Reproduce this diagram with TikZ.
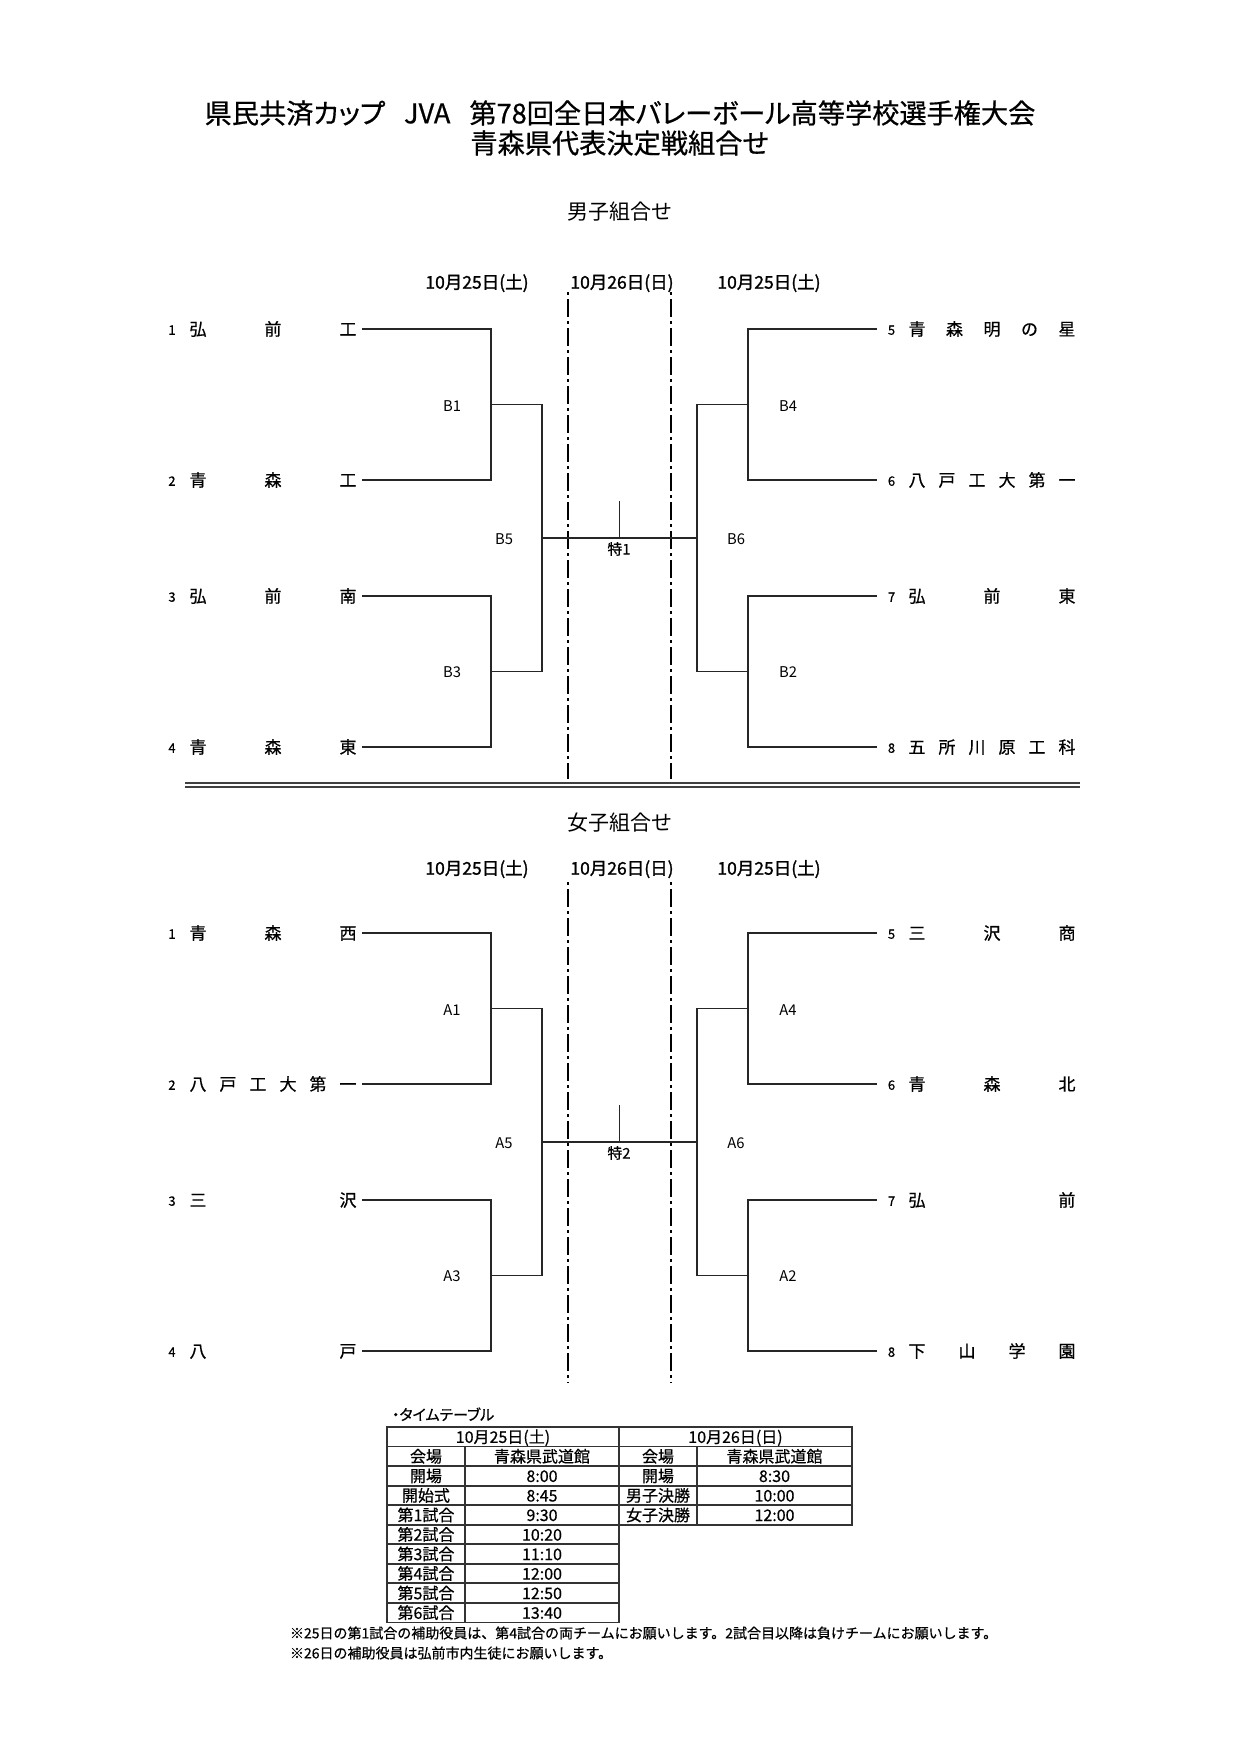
\documentclass[tikz,border=0pt]{standalone}
\usepackage{fontspec}
\setmainfont{Noto Sans CJK JP}
\newfontfamily\jpb{Noto Sans CJK JP}[FakeBold=1.4]
\newfontfamily\jpm{Noto Sans CJK JP}[FakeBold=0.6]
\newcommand\spreadbox[1]{\makebox[83.5pt]{#1}}
\tikzset{
  base/.style={inner sep=0pt, outer sep=0pt},
  ttl/.style={base, font=\jpm\fontsize{13.6pt}{16pt}\selectfont, text height=11.97pt, text depth=1.63pt},
  hdr/.style={base, font=\fontsize{10.5pt}{12pt}\selectfont, text height=9.24pt, text depth=1.26pt},
  dt/.style={base, font=\jpb\fontsize{8.75pt}{10pt}\selectfont, text height=7.7pt, text depth=1.05pt},
  tm/.style={base, anchor=west, font=\jpm\fontsize{8.5pt}{10pt}\selectfont, text height=7.48pt, text depth=1.02pt},
  nm/.style={base, font=\jpm\fontsize{6.5pt}{7pt}\selectfont, text height=4.75pt, text depth=0pt},
  lb/.style={base, font=\fontsize{7.4pt}{8pt}\selectfont, text height=5.4pt, text depth=0pt},
  tk/.style={base, font=\jpm\fontsize{7.4pt}{8pt}\selectfont, text height=6.5pt, text depth=0.89pt},
  tb/.style={base, font=\jpm\fontsize{8pt}{9pt}\selectfont, text height=7.04pt, text depth=0.96pt},
  nt/.style={base, anchor=west, font=\jpm\fontsize{7pt}{8pt}\selectfont, text height=6.16pt, text depth=0.84pt},
  br/.style={line width=0.6pt, draw=black!85},
  dd/.style={line width=1.1pt, draw=black, dash pattern=on 9pt off 2pt on 1.5pt off 2pt, dash phase=11pt},
  grd/.style={line width=0.9pt, draw=black!80},
  dbl/.style={line width=0.7pt, draw=black!75},
}
% #1 vertical shift, #2 name prefix, #3 label letter, #4 final label
\newcommand\bracketframe[4]{%
\begin{scope}[shift={(0,#1)}, name prefix=#2-]
  \coordinate (L1) at (362,329); \coordinate (L2) at (362,480);
  \coordinate (L3) at (362,596); \coordinate (L4) at (362,747);
  \coordinate (R1) at (877,329); \coordinate (R2) at (877,480);
  \coordinate (R3) at (877,596); \coordinate (R4) at (877,747);
  \coordinate (J1) at (491,404.5); \coordinate (J3) at (491,671.5);
  \coordinate (J5) at (542,538);   \coordinate (J4) at (748,404.5);
  \coordinate (J2) at (748,671.5); \coordinate (J6) at (697,538);
  \coordinate (TK) at (619.5,501); \coordinate (TB) at (619.5,538);
  \draw[br] (L1) -| (J1) |- (L2);
  \draw[br] (L3) -| (J3) |- (L4);
  \draw[br] (J1) -| (J5) |- (J3);
  \draw[br] (R1) -| (J4) |- (R2);
  \draw[br] (R3) -| (J2) |- (R4);
  \draw[br] (J4) -| (J6) |- (J2);
  \draw[br] (J5) -- (J6);
  \draw[br] (TK) -- (TB);
  \node[lb] (X1) at (452,406) {#31};
  \node[lb] (X3) at (452,672) {#33};
  \node[lb] (X5) at (504,539) {#35};
  \node[lb] (X4) at (788,406) {#34};
  \node[lb] (X2) at (788,672) {#32};
  \node[lb] (X6) at (736,539) {#36};
  \node[tk] (XF) at (619,549) {#4};
\end{scope}}
\begin{document}
\begin{tikzpicture}[x=0.5pt,y=-0.5pt]
\useasboundingbox (0,0) rectangle (1241,1755);
\fill[white] (0,0) rectangle (1241,1755);

% titles
\node[ttl] (title1) at (620,113) {\addfontfeature{RawFeature=+palt}県民共済カップ\hspace{0.7em}JVA\hspace{0.7em}第78回全日本バレーボール高等学校選手権大会};
\node[ttl] (title2) at (620,143) {青森県代表決定戦組合せ};

% ---------------- men ----------------
\node[hdr] (mhead) at (620,212) {男子組合せ};
\node[dt] (md1) at (477,282) {10月25日(土)};
\node[dt] (md2) at (622,282) {10月26日(日)};
\node[dt] (md3) at (769,282) {10月25日(土)};
\coordinate (mdlt) at (568,292); \coordinate (mdlb) at (568,779);
\coordinate (mdrt) at (671,292); \coordinate (mdrb) at (671,779);
\draw[dd] (mdlt) -- (mdlb);
\draw[dd] (mdrt) -- (mdrb);
\bracketframe{0}{m}{B}{特1}
\begin{scope}[name prefix=m-]
  \node[nm] (k1) at (172,330) {1};
  \node[nm] (k2) at (172,481) {2};
  \node[nm] (k3) at (172,597) {3};
  \node[nm] (k4) at (172,748) {4};
  \node[tm] (n1) at (189.5,329) {\spreadbox{弘\hfill 前\hfill 工}};
  \node[tm] (n2) at (189.5,480) {\spreadbox{青\hfill 森\hfill 工}};
  \node[tm] (n3) at (189.5,596) {\spreadbox{弘\hfill 前\hfill 南}};
  \node[tm] (n4) at (189.5,747) {\spreadbox{青\hfill 森\hfill 東}};
  \node[nm] (k5) at (891.5,330) {5};
  \node[nm] (k6) at (891.5,481) {6};
  \node[nm] (k7) at (891.5,597) {7};
  \node[nm] (k8) at (891.5,748) {8};
  \node[tm] (n5) at (908.5,329) {\spreadbox{青\hfill 森\hfill 明\hfill の\hfill 星}};
  \node[tm] (n6) at (908.5,480) {\spreadbox{八\hfill 戸\hfill 工\hfill 大\hfill 第\hfill 一}};
  \node[tm] (n7) at (908.5,596) {\spreadbox{弘\hfill 前\hfill 東}};
  \node[tm] (n8) at (908.5,747) {\spreadbox{五\hfill 所\hfill 川\hfill 原\hfill 工\hfill 科}};
\end{scope}

% separator double line
\coordinate (sepAl) at (185,783); \coordinate (sepAr) at (1080,783);
\coordinate (sepBl) at (185,787); \coordinate (sepBr) at (1080,787);
\draw[dbl] (sepAl) -- (sepAr);
\draw[dbl] (sepBl) -- (sepBr);

% ---------------- women ----------------
\node[hdr] (whead) at (620,823) {女子組合せ};
\node[dt] (wd1) at (477,868) {10月25日(土)};
\node[dt] (wd2) at (622,868) {10月26日(日)};
\node[dt] (wd3) at (769,868) {10月25日(土)};
\coordinate (wdlt) at (568,882); \coordinate (wdlb) at (568,1383);
\coordinate (wdrt) at (671,882); \coordinate (wdrb) at (671,1383);
\draw[dd] (wdlt) -- (wdlb);
\draw[dd] (wdrt) -- (wdrb);
\bracketframe{604}{w}{A}{特2}
\begin{scope}[shift={(0,604)}, name prefix=w-]
  \node[nm] (k1) at (172,330) {1};
  \node[nm] (k2) at (172,481) {2};
  \node[nm] (k3) at (172,597) {3};
  \node[nm] (k4) at (172,748) {4};
  \node[tm] (n1) at (189.5,329) {\spreadbox{青\hfill 森\hfill 西}};
  \node[tm] (n2) at (189.5,480) {\spreadbox{八\hfill 戸\hfill 工\hfill 大\hfill 第\hfill 一}};
  \node[tm] (n3) at (189.5,596) {\spreadbox{三\hfill 沢}};
  \node[tm] (n4) at (189.5,747) {\spreadbox{八\hfill 戸}};
  \node[nm] (k5) at (891.5,330) {5};
  \node[nm] (k6) at (891.5,481) {6};
  \node[nm] (k7) at (891.5,597) {7};
  \node[nm] (k8) at (891.5,748) {8};
  \node[tm] (n5) at (908.5,329) {\spreadbox{三\hfill 沢\hfill 商}};
  \node[tm] (n6) at (908.5,480) {\spreadbox{青\hfill 森\hfill 北}};
  \node[tm] (n7) at (908.5,596) {\spreadbox{弘\hfill 前}};
  \node[tm] (n8) at (908.5,747) {\spreadbox{下\hfill 山\hfill 学\hfill 園}};
\end{scope}

% ---------------- timetable ----------------
\node[nt, font=\jpm\fontsize{7.5pt}{9pt}\selectfont] (ttlabel) at (392,1415) {\addfontfeature{RawFeature=+palt}・タイムテーブル};
\def\rh{19.54}
% left block
\draw[grd] (387,1427) rectangle (619,{1427+10*\rh});
\foreach \i in {1,...,9} \draw[grd] (387,{1427+\i*\rh}) -- (619,{1427+\i*\rh});
\draw[grd] (465,{1427+\rh}) -- (465,{1427+10*\rh});
% right block
\draw[grd] (619,1427) rectangle (852,{1427+5*\rh});
\foreach \i in {1,...,4} \draw[grd] (619,{1427+\i*\rh}) -- (852,{1427+\i*\rh});
\draw[grd] (697,{1427+\rh}) -- (697,{1427+5*\rh});
\node[tb] (tlh) at (503,{1427+0.5*\rh}) {10月25日(土)};
\node[tb] (trh) at (735.5,{1427+0.5*\rh}) {10月26日(日)};
\foreach \a/\b [count=\i] in {会場/青森県武道館,開場/8:00,開始式/8:45,第1試合/9:30,第2試合/10:20,第3試合/11:10,第4試合/12:00,第5試合/12:50,第6試合/13:40}{
  \node[tb] (tla\i) at (426,{1427+(\i+0.5)*\rh}) {\a};
  \node[tb] (tlb\i) at (542,{1427+(\i+0.5)*\rh}) {\b};
}
\foreach \a/\b [count=\i] in {会場/青森県武道館,開場/8:30,男子決勝/10:00,女子決勝/12:00}{
  \node[tb] (tra\i) at (658,{1427+(\i+0.5)*\rh}) {\a};
  \node[tb] (trb\i) at (774.5,{1427+(\i+0.5)*\rh}) {\b};
}

% notes
\node[nt] (note1) at (290,1633) {※25日の第1試合の補助役員は、第4試合の両チームにお願いします。2試合目以降は負けチームにお願いします。};
\node[nt] (note2) at (290,1653) {※26日の補助役員は弘前市内生徒にお願いします。};
\end{tikzpicture}
\end{document}
